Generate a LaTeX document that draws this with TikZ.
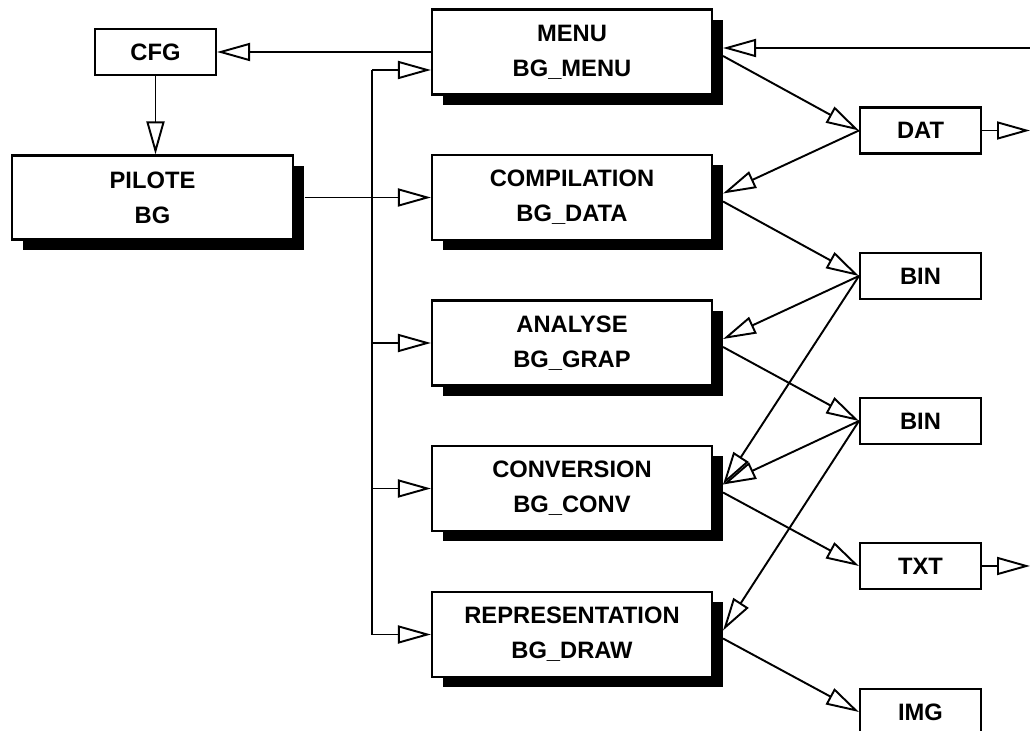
\documentclass[tikz,border=0pt]{standalone}
\usepackage{fontspec}
\setmainfont{Liberation Sans}
\usetikzlibrary{arrows.meta,shadows}

\begin{document}
\begin{tikzpicture}[
    font=\bfseries\fontsize{13.5}{20}\selectfont,
    box/.style={draw, fill=white, line width=1.2pt, inner sep=0pt, align=center},
    prog/.style={box, minimum width=5.6cm, minimum height=1.7cm,
      drop shadow={shadow xshift=0.21cm, shadow yshift=-0.21cm, fill=black, opacity=1}},
    file/.style={box, minimum width=2.42cm, minimum height=0.92cm},
    flow/.style={line width=1.1pt, -{Triangle[open, length=0.66cm, width=0.36cm, line width=1.1pt]}}
  ]
  \clip (0,0) rectangle (20.60,-14.62);
  \node[file] (cfg) at (3.11,-1.04) {CFG};
  \node[prog, minimum width=5.62cm, minimum height=1.68cm] (pilote) at (3.05,-3.95) {PILOTE\\BG};
  \node[prog] (menu) at (11.44,-1.04) {MENU\\BG\_MENU};
  \node[prog] (compil) at (11.44,-3.95) {COMPILATION\\BG\_DATA};
  \node[prog] (analyse) at (11.44,-6.86) {ANALYSE\\BG\_GRAP};
  \node[prog] (conv) at (11.44,-9.77) {CONVERSION\\BG\_CONV};
  \node[prog] (repr) at (11.44,-12.69) {REPRESENTATION\\BG\_DRAW};
  \node[file] (dat) at (18.41,-2.61) {DAT};
  \node[file] (bin1) at (18.41,-5.52) {BIN};
  \node[file] (bin2) at (18.41,-8.42) {BIN};
  \node[file] (txt) at (18.41,-11.32) {TXT};
  \node[file] (img) at (18.41,-14.24) {IMG};
  \coordinate (bus) at (7.44,-1.40);
  \coordinate (edge) at (20.60,0);
  \foreach \n in {menu,compil,analyse,conv,repr} {
    \coordinate (\n-i) at ([xshift=0.2cm,yshift=0.08cm]\n.east);
    \coordinate (\n-o) at ([xshift=0.2cm,yshift=-0.08cm]\n.east);
  }
  % Draw the program calls
  \draw[flow] (menu.west) -- (cfg.east);
  \draw[flow] (cfg.south) -- (cfg.south |- pilote.north);
  \draw[flow] ([xshift=0.21cm]pilote.east) -- (compil.west);
  \draw[flow] (bus) -- (bus -| menu.west);
  \foreach \n in {analyse,conv,repr}
    \draw[flow] (bus) |- (\n.west);
  % Draw the files read and written
  \draw[flow] (menu-i -| edge) -- (menu-i);
  \draw[flow] (menu-o) -- (dat.west);
  \draw[flow] (dat.west) -- (compil-i);
  \draw[flow] (dat.east) -- (dat.east -| edge);
  \draw[flow] (compil-o) -- (bin1.west);
  \draw[flow] (bin1.west) -- (analyse-i);
  \draw[flow] (bin1.west) -- (conv-i);
  \draw[flow] (analyse-o) -- (bin2.west);
  \draw[flow] (bin2.west) -- (conv-i);
  \draw[flow] (bin2.west) -- (repr-i);
  \draw[flow] (conv-o) -- (txt.west);
  \draw[flow] (txt.east) -- (txt.east -| edge);
  \draw[flow] (repr-o) -- (img.west);
\end{tikzpicture}
\end{document}
